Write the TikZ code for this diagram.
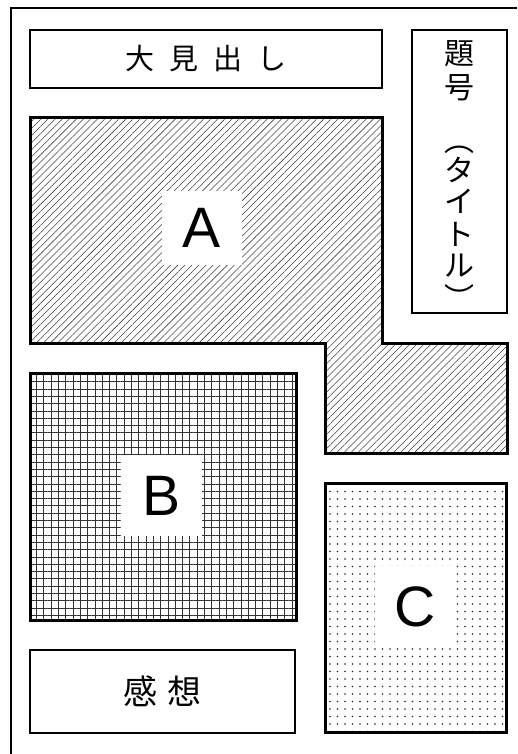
\documentclass[tikz,border=0pt]{standalone}
\usepackage{fontspec}
\usepackage{tkz-euclide}
\usetikzlibrary{patterns.meta}
\newfontfamily\jpfont{Noto Sans CJK JP}
\newfontfamily\tagfont{Liberation Sans}
\tikzset{
  titlebox/.style={draw, line width=1.4pt, inner sep=0pt},
  areaedge/.style={line width=3pt, line join=miter},
  areatag/.style={fill=white, inner sep=0pt, font=\tagfont\fontsize{57}{57}\selectfont},
  vchar/.style={inner sep=0pt, font=\jpfont\fontsize{30}{30}\selectfont}
}
\begin{document}
\begin{tikzpicture}[x=1pt,y=-1pt]
            \useasboundingbox (0,0) rectangle (517,754);
            \draw[line width=1.4pt] (11,754) |- (517,8);
            % area A
            \tkzDefPoint(30,118){a1}
            \tkzDefPoint(382,118){a2}
            \tkzDefPoint(382,343){a3}
            \tkzDefPoint(507,343){a4}
            \tkzDefPoint(507,453){a5}
            \tkzDefPoint(325,453){a6}
            \tkzDefPoint(325,343){a7}
            \tkzDefPoint(30,343){a8}
            \tkzDrawPolygon[areaedge,pattern={Lines[angle=45,distance=5pt,line width=0.55pt]},pattern color=black!75](a1,a2,a3,a4,a5,a6,a7,a8)
            % areas B and C
            \tkzDefPoint(30,373){b1}
            \tkzDefPoint(296,373){b2}
            \tkzDefPoint(296,620){b3}
            \tkzDefPoint(30,620){b4}
            \tkzDrawPolygon[areaedge,pattern={Hatch[angle=0,distance=7.3pt,line width=0.7pt]},pattern color=black!80](b1,b2,b3,b4)
            \tkzDefPoint(325,483){c1}
            \tkzDefPoint(506,483){c2}
            \tkzDefPoint(506,732){c3}
            \tkzDefPoint(325,732){c4}
            \tkzDrawPolygon[areaedge,pattern={Dots[distance=7.5pt,radius=0.8pt]},pattern color=black!85](c1,c2,c3,c4)
            \node[areatag, minimum width=80pt, minimum height=74pt] (tagA) at (202,227.5) {A};
            \node[areatag, minimum size=81pt] (tagB) at (161.5,495.5) {B};
            \node[areatag, minimum size=81pt] (tagC) at (415.5,606.5) {C};
            % text boxes
            \node[titlebox, minimum width=352pt, minimum height=58pt, font=\jpfont\fontsize{29}{29}\selectfont] (headline) at (206,59)
              {大\hspace{15pt}見\hspace{15pt}出\hspace{15pt}し};
            \node[titlebox, minimum width=265pt, minimum height=83pt, font=\jpfont\fontsize{34}{34}\selectfont] (impression) at (162.5,691.5)
              {感\hspace{11pt}想};
            \node[titlebox, minimum width=95pt, minimum height=283pt] (titlecol) at (459.5,171.5) {};
            \foreach \ch/\yy [count=\i] in {題/54,号/88,︵/150,タ/170,イ/201,ト/234,ル/266,︶/297}
              \node[vchar] (title\i) at (459.5,\yy) {\ch};
        \end{tikzpicture}
\end{document}
